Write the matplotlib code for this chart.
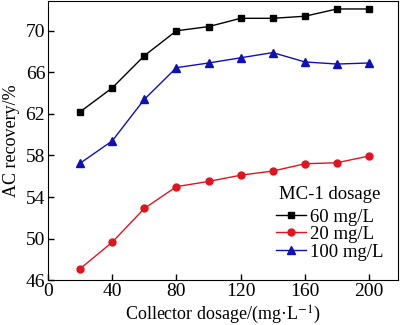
import matplotlib
matplotlib.use("Agg")
import matplotlib.pyplot as plt

plt.rcParams['font.family'] = ['Liberation Serif', 'DejaVu Serif']
plt.rcParams['mathtext.fontset'] = 'stix'

# collector dosage, mg/L
dosage = [20, 40, 60, 80, 100, 120, 140, 160, 180, 200]
# AC recovery, % for each MC-1 dosage
rec_60 = [62.2, 64.5, 67.6, 70.0, 70.4, 71.2, 71.2, 71.4, 72.1, 72.1]
rec_20 = [47.1, 49.65, 52.9, 55.0, 55.5, 56.1, 56.5, 57.2, 57.3, 57.95]
rec_100 = [57.25, 59.4, 63.4, 66.45, 66.9, 67.4, 67.9, 67.0, 66.8, 66.9]

fig = plt.figure(figsize=(4, 3.25), dpi=100)
ax = fig.add_axes([0.12, 0.138, 0.875, 0.86])

ax.plot(dosage, rec_60, color='black', marker='s', markersize=5, lw=1, label='60 mg/L')
ax.plot(dosage, rec_20, color='#e0141e', marker='o', markersize=5, lw=1, label='20 mg/L')
ax.plot(dosage, rec_100, color='#1010b8', marker='^', markersize=5.5, lw=1, label='100 mg/L')

ax.set_xlim(0, 218)
ax.set_ylim(46, 72.9)
ax.set_xticks([0, 40, 80, 120, 160, 200])
ax.set_yticks([46, 50, 54, 58, 62, 66, 70])
ax.tick_params(direction='in', labelsize=14, length=4, width=1, pad=2)
ax.set_xlabel('Collector dosage/(mg·L$^{-1}$)', fontsize=13, labelpad=3)
ax.set_ylabel('AC recovery/%', fontsize=13, labelpad=4)

leg = ax.legend(title='MC-1 dosage', loc='lower right', frameon=False, fontsize=13.5,
                title_fontsize=13.5, handlelength=1.6, handletextpad=0.2,
                labelspacing=0.02, borderaxespad=0.2, bbox_to_anchor=(0.99, 0.03))
leg._legend_box.sep = 4

fig.savefig('out.png', dpi=100)
